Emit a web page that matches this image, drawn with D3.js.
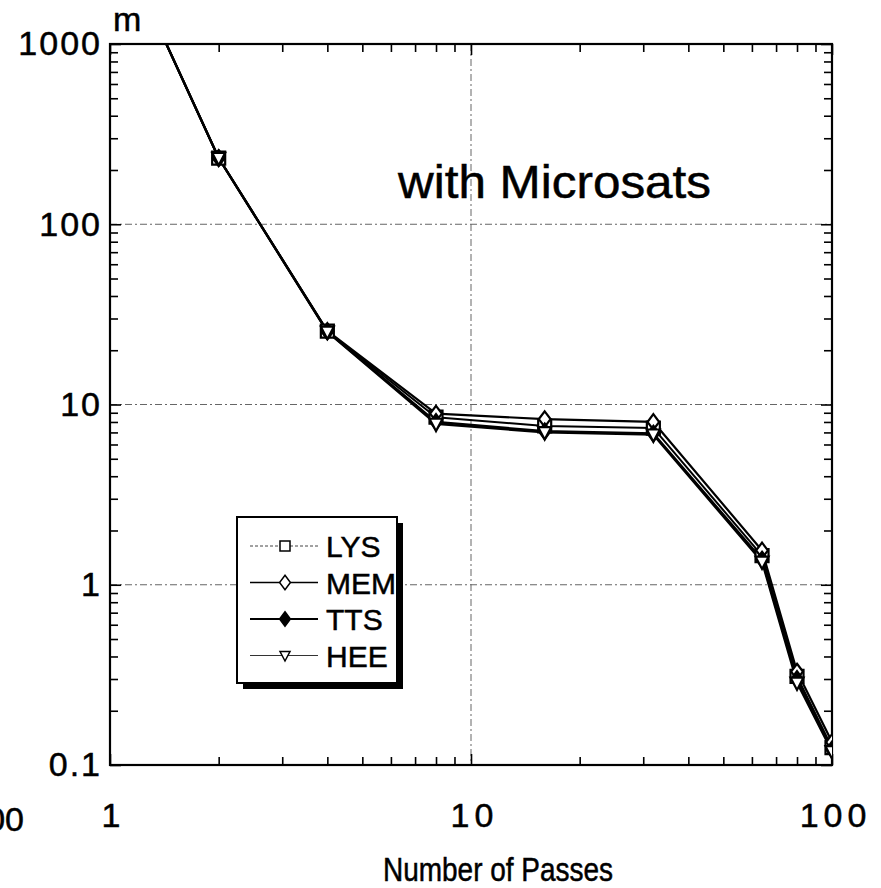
<!DOCTYPE html>
<html>
<head>
<meta charset="utf-8">
<script src="https://cdn.jsdelivr.net/npm/d3@7"></script>
<style>
  html, body { margin: 0; padding: 0; background: #fff; }
  svg { display: block; font-family: "Liberation Sans", Arial, Helvetica, sans-serif; }
  svg text { fill: #000; stroke: #000; stroke-width: 0.5px; }
</style>
</head>
<body>
<svg id="chart" width="881" height="888"></svg>
<script>
// Number of passes (x) and the value m for each dataset
const passes = [1, 2, 4, 8, 16, 32, 64, 80, 100];
const lysValues = [4800, 233, 25.5, 8.5, 7.6, 7.4, 1.45, 0.31, 0.125];
const memValues = [4800, 233, 25.6, 8.9, 8.3, 8.0, 1.55, 0.33, 0.134];
const ttsValues = [4800, 233, 25.4, 8.0, 7.1, 6.9, 1.38, 0.30, 0.122];
const heeValues = [4800, 233, 25.3, 7.8, 7.0, 6.8, 1.34, 0.286, 0.119];
const seriesNames = ["LYS", "MEM", "TTS", "HEE"];

const xTickLabels = [1, 10, 100];
const yTickLabels = [0.1, 1, 10, 100, 1000];

const svg = d3.select("#chart");
const W = 881, H = 888;
svg.append("rect").attr("width", W).attr("height", H).attr("fill", "#fff");

const plotLeft = 110, plotRight = 832, plotTop = 44, plotBottom = 765;
const x = d3.scaleLog().domain([1, 100]).range([plotLeft, plotRight]);
const y = d3.scaleLog().domain([0.1, 1000]).range([plotBottom, plotTop]);

// minor ticks 2..9 per decade
function minorTicks(lo, hi) {
  const out = [];
  for (let e = Math.log10(lo); e < Math.log10(hi); e++) {
    for (let k = 2; k <= 9; k++) out.push(k * Math.pow(10, e));
  }
  return out;
}
const xMinor = minorTicks(1, 100);
const yMinor = minorTicks(0.1, 1000);

// dash-dot grid lines
const grid = svg.append("g").attr("stroke", "#666").attr("stroke-width", 1)
  .attr("stroke-dasharray", "7,3,2,3").attr("fill", "none");
[1, 10, 100].forEach(v => {
  grid.append("line").attr("x1", plotLeft).attr("x2", plotRight).attr("y1", y(v)).attr("y2", y(v));
});
grid.append("line").attr("x1", x(10)).attr("x2", x(10)).attr("y1", plotTop).attr("y2", plotBottom);

// inward ticks on all four sides
function tickAxis(axisFn, scale, values, size, transform) {
  const g = svg.append("g").attr("transform", transform)
    .call(axisFn(scale).tickValues(values).tickSize(size).tickFormat(""));
  g.select(".domain").remove();
  g.selectAll(".tick line").attr("stroke", "#000").attr("stroke-width", 1.6);
  return g;
}
tickAxis(d3.axisRight, y, yMinor, 8, `translate(${plotLeft},0)`);
tickAxis(d3.axisRight, y, yTickLabels, 11, `translate(${plotLeft},0)`);
tickAxis(d3.axisLeft, y, yMinor, 8, `translate(${plotRight},0)`);
tickAxis(d3.axisLeft, y, yTickLabels, 11, `translate(${plotRight},0)`);
tickAxis(d3.axisBottom, x, xMinor, 8, `translate(0,${plotTop})`);
tickAxis(d3.axisBottom, x, xTickLabels, 11, `translate(0,${plotTop})`);
tickAxis(d3.axisTop, x, xMinor, 8, `translate(0,${plotBottom})`);
tickAxis(d3.axisTop, x, xTickLabels, 11, `translate(0,${plotBottom})`);

// frame
svg.append("rect").attr("x", plotLeft).attr("y", plotTop)
  .attr("width", plotRight - plotLeft).attr("height", plotBottom - plotTop)
  .attr("fill", "none").attr("stroke", "#000").attr("stroke-width", 2.2);

// tick labels
const yLab = svg.append("g").attr("transform", `translate(${plotLeft},0)`)
  .call(d3.axisLeft(y).tickValues(yTickLabels).tickSize(0).tickPadding(8)
    .tickFormat(d => d < 1 ? "0.1" : d3.format("d")(d)));
yLab.select(".domain").remove();
yLab.selectAll("text").attr("font-size", 34).attr("letter-spacing", 2)
  .attr("font-family", "Liberation Sans, Arial, sans-serif");

const xLab = svg.append("g").attr("transform", `translate(0,${plotBottom})`)
  .call(d3.axisBottom(x).tickValues(xTickLabels).tickSize(0).tickPadding(38)
    .tickFormat(d3.format("d")));
xLab.select(".domain").remove();
xLab.selectAll("text").attr("font-size", 34).attr("letter-spacing", 5)
  .attr("dx", 3)
  .attr("font-family", "Liberation Sans, Arial, sans-serif");

// partial label at the left margin
svg.append("text").attr("x", 24).attr("y", 831).attr("text-anchor", "end")
  .attr("font-size", 34).text("100");

// unit label
svg.append("text").attr("x", 113).attr("y", 31).attr("font-size", 34).text("m");

// axis title
svg.append("text").attr("x", 383).attr("y", 881)
  .attr("font-size", 33).attr("textLength", 230).attr("lengthAdjust", "spacingAndGlyphs")
  .text("Number of Passes");

// annotation
svg.append("text").attr("x", 398).attr("y", 198).attr("font-size", 46)
  .attr("textLength", 313).attr("lengthAdjust", "spacingAndGlyphs")
  .text("with Microsats");

// data series
const series = [
  { name: "LYS", values: lysValues, marker: "square", width: 2 },
  { name: "MEM", values: memValues, marker: "diamond", width: 2.2 },
  { name: "TTS", values: ttsValues, marker: "diamondFilled", width: 2.4 },
  { name: "HEE", values: heeValues, marker: "triangle", width: 2.2 }
];

svg.append("clipPath").attr("id", "plotClip").append("rect")
  .attr("x", plotLeft).attr("y", plotTop).attr("width", plotRight - plotLeft).attr("height", plotBottom - plotTop);

const line = d3.line().x(d => x(d[0])).y(d => y(d[1]));
const plot = svg.append("g").attr("clip-path", "url(#plotClip)");

function markerPath(type, s) {
  if (type === "square") return `M${-s},${-s}H${s}V${s}H${-s}Z`;
  if (type === "diamond" || type === "diamondFilled") return `M0,${-s * 1.2}L${s * 0.9},0L0,${s * 1.2}L${-s * 0.9},0Z`;
  if (type === "triangle") return `M${-s},${-s * 0.8}H${s}L0,${s * 1.1}Z`;
}

series.forEach(sr => {
  const pts = passes.map((p, i) => [p, sr.values[i]]);
  plot.append("path").datum(pts).attr("d", line)
    .attr("fill", "none").attr("stroke", "#000").attr("stroke-width", sr.width)
    .attr("stroke-linejoin", "round");
});
series.forEach(sr => {
  const pts = passes.map((p, i) => [p, sr.values[i]]);
  plot.selectAll(null).data(pts).enter().append("path")
    .attr("transform", d => `translate(${x(d[0])},${y(d[1])})`)
    .attr("d", markerPath(sr.marker, 6.5))
    .attr("fill", sr.marker === "diamondFilled" ? "#000" : "#fff")
    .attr("stroke", "#000").attr("stroke-width", 2.2);
});

// legend with drop shadow
const lg = { x: 237, y: 517, w: 160, h: 166 };
svg.append("rect").attr("x", lg.x + 6).attr("y", lg.y + 6).attr("width", lg.w).attr("height", lg.h)
  .attr("fill", "#000");
svg.append("rect").attr("x", lg.x).attr("y", lg.y).attr("width", lg.w).attr("height", lg.h)
  .attr("fill", "#fff").attr("stroke", "#000").attr("stroke-width", 2);

const legendStyles = {
  LYS: { stroke: "#444", width: 1, dash: "3,2", marker: "square", size: 5 },
  MEM: { stroke: "#000", width: 1.4, dash: null, marker: "diamond", size: 6 },
  TTS: { stroke: "#000", width: 2, dash: null, marker: "diamondFilled", size: 6 },
  HEE: { stroke: "#333", width: 1.2, dash: null, marker: "triangle", size: 5 }
};
seriesNames.forEach((name, i) => {
  const st = legendStyles[name];
  const cy = 546 + i * 36.5;
  const g = svg.append("g");
  g.append("line").attr("x1", 250).attr("x2", 318).attr("y1", cy).attr("y2", cy)
    .attr("stroke", st.stroke).attr("stroke-width", st.width)
    .attr("stroke-dasharray", st.dash);
  g.append("path").attr("transform", `translate(285,${cy})`)
    .attr("d", markerPath(st.marker, st.size))
    .attr("fill", st.marker === "diamondFilled" ? "#000" : "#fff")
    .attr("stroke", "#000").attr("stroke-width", 1.5);
  g.append("text").attr("x", 326).attr("y", cy + 11).attr("font-size", 30).text(name);
});
</script>
</body>
</html>
